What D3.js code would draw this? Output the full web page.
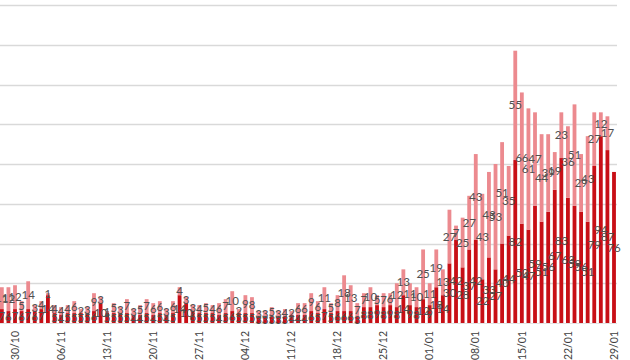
<!DOCTYPE html>
<html>
<head>
<meta charset="utf-8">
<script src="https://cdn.jsdelivr.net/npm/d3@7/dist/d3.min.js"></script>
<style>
html,body{margin:0;padding:0;background:#fff;}
svg{display:block;}
</style>
</head>
<body>
<svg id="chart" width="630" height="360"></svg>
<script>
// first day shown and last day shown (one bar per day)
const firstDay = "2020-10-28";
const lastDay = "2021-01-29";

// lower (dark red) segment values, one per day
const darkVals = [
  7,6,7,6,7,6,7,14,5,4,
  5,5,5,5,6,10,5,5,5,5,
  4,4,5,4,5,4,5,14,10,6,
  5,5,5,4,5,6,5,5,5,3,
  3,3,3,3,4,4,4,6,5,7,
  5,6,6,6,3,8,8,9,8,9,
  8,14,9,8,12,9,18,14,30,42,
  28,37,42,22,33,27,40,44,82,50,
  47,59,51,56,67,83,63,59,56,51,
  79,94,87,76
];
// upper (pink) segment values, one per day
const pinkVals = [
  11,12,12,5,14,3,4,1,4,4,
  4,6,2,3,9,3,1,5,3,7,
  3,5,7,6,6,3,6,4,3,3,
  4,5,4,6,7,10,2,9,8,3,
  3,5,3,4,2,6,6,9,6,11,
  5,8,18,13,7,7,10,5,7,6,
  12,13,11,10,25,11,19,13,27,7,
  25,27,43,43,43,53,51,35,55,66,
  61,47,44,39,19,23,36,51,29,43,
  27,12,17,0
];
// weekly tick labels on the date axis
const tickLabels = ["30/10","06/11","13/11","20/11","27/11","04/12","11/12",
                    "18/12","25/12","01/01","08/01","15/01","22/01","29/01"];
const gridValues = [20,40,60,80,100,120,140,160];

const fmt = d3.timeFormat("%d/%m");
const days = d3.timeDay.range(new Date(firstDay + "T00:00"), d3.timeDay.offset(new Date(lastDay + "T00:00"), 1));
const cats = days.map(fmt);
const data = cats.map((c, i) => ({cat: c, dark: darkVals[i], pink: pinkVals[i]}));

const svg = d3.select("#chart");
const x0 = 1.84 - 3.29, x1 = 614 + 3.29;
const x = d3.scaleBand().domain(cats).range([x0, x1]).paddingInner(0.42).paddingOuter(0.21);
const y = d3.scaleLinear().domain([0, 160]).range([323, 5]);

// gridlines
svg.append("g").selectAll("line").data(gridValues).join("line")
  .attr("x1", 0).attr("x2", 617)
  .attr("y1", d => Math.round(y(d)) + 0.5).attr("y2", d => Math.round(y(d)) + 0.5)
  .attr("stroke", "#d9d9d9").attr("stroke-width", 1.6);
svg.append("line").attr("x1", 0).attr("x2", 617)
  .attr("y1", y(0) + 0.5).attr("y2", y(0) + 0.5)
  .attr("stroke", "#e3e3e3").attr("stroke-width", 1);

const stack = d3.stack().keys(["dark", "pink"])(data);
const colors = {dark: "#c80f16", pink: "#ec8a8f"};

const g = svg.append("g");
stack.forEach(layer => {
  g.append("g").selectAll("rect").data(layer).join("rect")
    .attr("x", d => x(d.data.cat))
    .attr("width", x.bandwidth())
    .attr("y", d => y(d[1]))
    .attr("height", d => Math.max(0, y(d[0]) - y(d[1])))
    .attr("fill", colors[layer.key]);
});

// data labels at segment centers
const lab = svg.append("g").attr("font-family", "Lato, 'Open Sans', sans-serif")
  .attr("font-size", 11.5).attr("fill", "#505050").attr("text-anchor", "middle");
stack.forEach(layer => {
  lab.append("g").selectAll("text").data(layer.filter(d => d[1] - d[0] > 0)).join("text")
    .attr("x", d => x(d.data.cat) + x.bandwidth() / 2)
    .attr("y", d => y((d[0] + d[1]) / 2))
    .attr("dy", "0.35em")
    .text(d => d[1] - d[0]);
});

// x axis tick labels (rotated)
const axis = d3.axisBottom(x).tickValues(tickLabels).tickSize(0).tickPadding(0);
const ax = svg.append("g").attr("transform", "translate(0,331)").call(axis);
ax.select(".domain").remove();
ax.selectAll("text")
  .attr("font-family", "Lato, 'Open Sans', sans-serif")
  .attr("font-size", 10.5).attr("fill", "#404040")
  .attr("transform", "rotate(-90)")
  .attr("text-anchor", "end")
  .attr("x", 0).attr("y", 0).attr("dy", "0.35em");
</script>
</body>
</html>
